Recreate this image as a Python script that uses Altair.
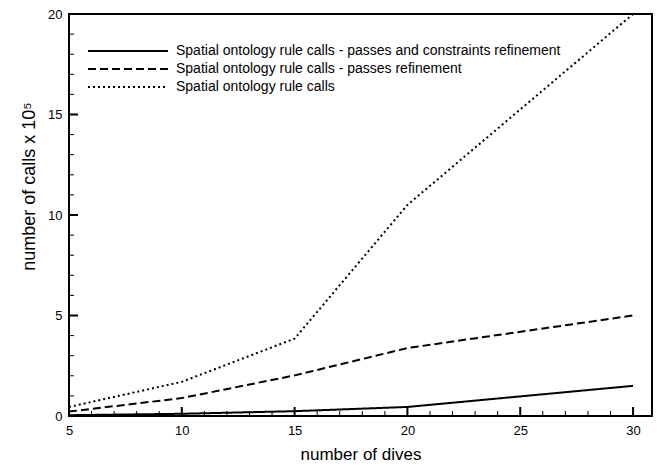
import altair as alt
import pandas as pd

# ---- data ----
dives = [5, 10, 15, 20, 30]
series_names = [
    "Spatial ontology rule calls - passes and constraints refinement",
    "Spatial ontology rule calls - passes refinement",
    "Spatial ontology rule calls",
]
calls_constraints = [0.04, 0.11, 0.24, 0.45, 1.5]
calls_passes = [0.22, 0.89, 2.02, 3.38, 5.0]
calls_all = [0.45, 1.7, 3.85, 10.5, 20.0]

x_major = [5, 10, 15, 20, 25, 30]
x_minor = [6, 7, 8, 9, 11, 12, 13, 14, 16, 17, 18, 19, 21, 22, 23, 24, 26, 27, 28, 29]
y_major = [0, 5, 10, 15, 20]
y_minor = [1, 2, 3, 4, 6, 7, 8, 9, 11, 12, 13, 14, 16, 17, 18, 19]

rows = []
for name, vals in zip(series_names, [calls_constraints, calls_passes, calls_all]):
    for d, v in zip(dives, vals):
        rows.append({"dives": d, "calls": v, "series": name})
df = pd.DataFrame(rows)

FONT = "Liberation Sans"
W, H = 583, 402
xscale = alt.Scale(domain=[5, 30.84], nice=False, zero=False)
yscale = alt.Scale(domain=[0, 20], nice=False, zero=True)

xaxis = alt.Axis(title="number of dives", values=x_major, ticks=False, domain=False,
                 grid=False, labelFontSize=13, labelPadding=8, labelFlush=False,
                 labelFont=FONT, titleFont=FONT, titleFontSize=17, titlePadding=9,
                 titleFontWeight="normal", labelColor="black", titleColor="black")
yaxis = alt.Axis(title="number of calls x 10⁵", values=y_major, ticks=False, domain=False,
                 grid=False, labelFontSize=13, labelPadding=7, labelFlush=False,
                 labelFont=FONT, titleFont=FONT, titleFontSize=18, titlePadding=9,
                 titleY=172,
                 titleFontWeight="normal", labelColor="black", titleColor="black")

lines = alt.Chart(df).mark_line(color="black", strokeWidth=2, strokeCap="butt").encode(
    x=alt.X("dives:Q", scale=xscale, axis=xaxis),
    y=alt.Y("calls:Q", scale=yscale, axis=yaxis),
    strokeDash=alt.StrokeDash(
        "series:N",
        scale=alt.Scale(domain=series_names, range=[[1, 0], [8, 4], [2, 3]]),
        sort=series_names,
        legend=alt.Legend(title=None, orient="none", legendX=50, legendY=28,
                          symbolType="M-5,0H5", symbolSize=256, symbolStrokeWidth=2,
                          symbolStrokeColor="black", symbolFillColor="transparent",
                          labelFontSize=14, labelFont=FONT, labelColor="black",
                          labelOffset=39, rowPadding=2, padding=0, labelLimit=600),
    ),
)

xmaj = alt.Chart(pd.DataFrame({"dives": x_major})).mark_rule(color="black", strokeWidth=2).encode(
    x=alt.X("dives:Q", scale=xscale, axis=xaxis), y=alt.value(H), y2=alt.value(H - 9))
xmin = alt.Chart(pd.DataFrame({"dives": x_minor})).mark_rule(color="black", strokeWidth=1).encode(
    x=alt.X("dives:Q", scale=xscale, axis=xaxis), y=alt.value(H), y2=alt.value(H - 5))
ymaj = alt.Chart(pd.DataFrame({"calls": y_major})).mark_rule(color="black", strokeWidth=2).encode(
    y=alt.Y("calls:Q", scale=yscale, axis=yaxis), x=alt.value(0), x2=alt.value(9))
ymin = alt.Chart(pd.DataFrame({"calls": y_minor})).mark_rule(color="black", strokeWidth=1).encode(
    y=alt.Y("calls:Q", scale=yscale, axis=yaxis), x=alt.value(0), x2=alt.value(5))

chart = alt.layer(lines, xmaj, xmin, ymaj, ymin).properties(
    width=W, height=H,
    autosize=alt.AutoSizeParams(type="none"),
    padding={"left": 61, "top": 6, "right": 7, "bottom": 52},
).configure_view(stroke="black", strokeWidth=2)

chart.save("out.html", embed_options={"renderer": "svg", "actions": False})
